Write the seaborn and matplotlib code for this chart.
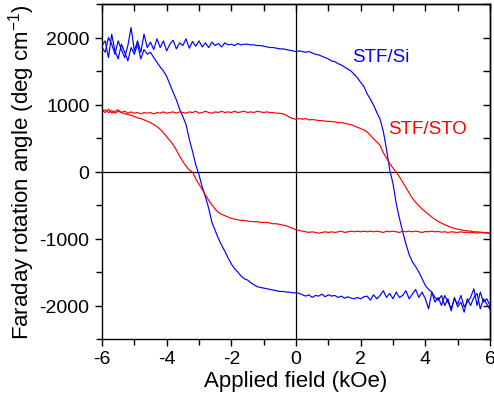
import numpy as np
import pandas as pd
import matplotlib
matplotlib.use("Agg")
import matplotlib.pyplot as plt
import seaborn as sns
from matplotlib.ticker import MultipleLocator

# Applied field grid (kOe)
field = [-6.0, -5.9, -5.8, -5.7, -5.6, -5.5, -5.4, -5.3, -5.2, -5.1,
         -5.0, -4.9, -4.8, -4.7, -4.6, -4.5, -4.4, -4.3, -4.2, -4.1,
         -4.0, -3.9, -3.8, -3.7, -3.6, -3.5, -3.4, -3.3, -3.2, -3.1,
         -3.0, -2.9, -2.8, -2.7, -2.6, -2.5, -2.4, -2.3, -2.2, -2.1,
         -2.0, -1.9, -1.8, -1.7, -1.6, -1.5, -1.4, -1.3, -1.2, -1.1,
         -1.0, -0.9, -0.8, -0.7, -0.6, -0.5, -0.4, -0.3, -0.2, -0.1,
         0.0, 0.1, 0.2, 0.3, 0.4, 0.5, 0.6, 0.7, 0.8, 0.9,
         1.0, 1.1, 1.2, 1.3, 1.4, 1.5, 1.6, 1.7, 1.8, 1.9,
         2.0, 2.1, 2.2, 2.3, 2.4, 2.5, 2.6, 2.7, 2.8, 2.9,
         3.0, 3.1, 3.2, 3.3, 3.4, 3.5, 3.6, 3.7, 3.8, 3.9,
         4.0, 4.1, 4.2, 4.3, 4.4, 4.5, 4.6, 4.7, 4.8, 4.9,
         5.0, 5.1, 5.2, 5.3, 5.4, 5.5, 5.6, 5.7, 5.8, 5.9, 6.0]

# STF/Si, branch that switches at +H
si_upper = [1850, 1780, 2000, 1900, 1750, 1950, 1820, 1700, 1880, 2150,
            1800, 1950, 1780, 2050, 1850, 1930, 1820, 1980, 1850, 1950,
            1800, 1900, 1960, 1830, 1920, 1880, 1980, 1840, 1940, 1870,
            1950, 1860, 1920, 1850, 1930, 1880, 1910, 1860, 1920, 1890,
            1900, 1880, 1910, 1890, 1900, 1900, 1890, 1890, 1880, 1880,
            1870, 1860, 1850, 1850, 1840, 1830, 1830, 1820, 1810, 1800,
            1790, 1800, 1790, 1780, 1790, 1770, 1750, 1740, 1720, 1700,
            1680, 1650, 1640, 1610, 1590, 1560, 1530, 1500, 1450, 1400,
            1330, 1270, 1160, 1080, 990, 880, 780, 600, 330, 20,
            -180, -480, -700, -900, -1080, -1240, -1350, -1420, -1500, -1600,
            -1700, -1760, -1800, -1880, -1920, -1850, -2000, -1900, -2080, -1880,
            -2020, -1950, -2100, -1900, -2000, -1880, -1820, -2050, -1900, -1980, -2060]

# STF/Si, branch that switches at -H
si_lower = [1880, 1950, 1700, 2050, 1800, 1680, 1900, 1780, 1650, 1850,
            1750, 1900, 1680, 1820, 1750, 1780, 1700, 1630, 1560, 1500,
            1420, 1300, 1180, 1070, 930, 820, 700, 480, 300, 100,
            -50, -230, -380, -550, -760, -880, -1000, -1100, -1190, -1290,
            -1380, -1450, -1500, -1560, -1600, -1620, -1660, -1690, -1720, -1730,
            -1740, -1750, -1760, -1770, -1780, -1790, -1790, -1800, -1800, -1810,
            -1810, -1820, -1840, -1860, -1840, -1880, -1850, -1860, -1830, -1870,
            -1840, -1860, -1850, -1880, -1860, -1890, -1870, -1890, -1900, -1880,
            -1900, -1870, -1860, -1920, -1840, -1900, -1850, -1780, -1880, -1820,
            -1900, -1800, -1880, -1850, -1780, -1900, -1830, -1760, -1880, -1800,
            -1900, -2050, -1800, -1950, -1880, -2000, -1850, -1950, -2050, -1900,
            -1980, -1850, -2020, -1950, -1880, -1750, -2000, -1800, -1950, -1900, -2000]

# STF/STO, branch that switches at +H
sto_upper = [910, 880, 930, 870, 900, 920, 880, 900, 870, 890,
             870, 880, 860, 880, 870, 880, 860, 880, 870, 890,
             870, 880, 890, 870, 890, 880, 870, 890, 880, 900,
             870, 880, 900, 880, 870, 890, 880, 900, 880, 890,
             880, 900, 880, 890, 900, 880, 890, 880, 900, 890,
             880, 890, 880, 880, 870, 870, 860, 840, 810, 790,
             780, 790, 780, 790, 770, 775, 770, 760, 760, 750,
             750, 745, 740, 730, 730, 720, 710, 700, 680, 660,
             640, 620, 590, 540, 490, 440, 390, 280, 200, 120,
             50, -10, -80, -160, -240, -320, -400, -460, -510, -560,
             -600, -640, -680, -715, -745, -770, -795, -815, -835, -850,
             -860, -870, -880, -885, -890, -900, -900, -905, -910, -910, -920]

# STF/STO, branch that switches at -H
sto_lower = [900, 920, 880, 910, 870, 900, 880, 860, 850, 840,
             820, 800, 790, 770, 750, 730, 700, 670, 630, 580,
             520, 460, 400, 320, 230, 150, 80, 20, -10, -110,
             -190, -270, -350, -430, -500, -560, -610, -640, -660, -680,
             -700, -710, -720, -730, -730, -740, -745, -750, -750, -760,
             -760, -760, -770, -780, -780, -790, -800, -810, -830, -850,
             -870, -880, -890, -900, -910, -900, -910, -920, -910, -900,
             -910, -900, -910, -900, -890, -910, -900, -890, -900, -890,
             -900, -890, -900, -890, -900, -890, -900, -910, -890, -900,
             -890, -900, -910, -890, -900, -890, -900, -890, -900, -910,
             -895, -900, -890, -900, -895, -905, -900, -910, -900, -905,
             -910, -900, -910, -905, -915, -910, -920, -910, -915, -920, -925]

samples = ["STF/Si", "STF/STO"]
colors = {"STF/Si": "#0000ff", "STF/STO": "#ff0000"}

frames = []
for name, branch, vals in [("STF/Si", "up", si_upper), ("STF/Si", "down", si_lower),
                           ("STF/STO", "up", sto_upper), ("STF/STO", "down", sto_lower)]:
    frames.append(pd.DataFrame({"field": field, "angle": vals,
                                "sample": name, "branch": branch}))
df = pd.concat(frames, ignore_index=True)

sns.set_theme(style="white")
plt.rcParams["font.family"] = ["Liberation Sans", "DejaVu Sans"]
plt.rcParams["mathtext.default"] = "regular"
plt.rcParams["axes.unicode_minus"] = False

fig = plt.figure(figsize=(4.94, 4.02), dpi=100)
ax = fig.add_axes([102 / 494, 1 - 340 / 402, 388 / 494, 335 / 402])

ax.axhline(0, color="black", lw=0.9, zorder=1)
ax.axvline(0, color="black", lw=0.9, zorder=1)

sns.lineplot(data=df, x="field", y="angle", hue="sample", units="branch",
             estimator=None, sort=False, palette=colors, legend=False,
             linewidth=0.85, ax=ax, zorder=2)

ax.set_xlim(-6, 6)
ax.set_ylim(-2500, 2500)
ax.xaxis.set_major_locator(MultipleLocator(2))
ax.xaxis.set_minor_locator(MultipleLocator(1))
ax.yaxis.set_major_locator(MultipleLocator(1000))
ax.yaxis.set_minor_locator(MultipleLocator(500))
ax.set_yticks([-2000, -1000, 0, 1000, 2000])

for s in ax.spines.values():
    s.set_color("black")
    s.set_linewidth(1.0)

ax.tick_params(which="both", direction="out", color="black", width=1.0,
               top=False, right=False, left=True, bottom=True,
               labelsize=14, labelcolor="black")
ax.tick_params(axis="y", which="both", pad=4)
ax.tick_params(axis="x", which="both", pad=3)
ax.tick_params(which="major", length=5)
ax.tick_params(which="minor", length=4)

secx = ax.secondary_xaxis("top")
secx.xaxis.set_major_locator(MultipleLocator(1))
secx.tick_params(direction="in", length=5, width=1.0, color="black", labeltop=False)
secy = ax.secondary_yaxis("right")
secy.yaxis.set_major_locator(MultipleLocator(500))
secy.tick_params(direction="in", length=5, width=1.0, color="black", labelright=False)
for sa in (secx, secy):
    for s in sa.spines.values():
        s.set_color("black")
        s.set_linewidth(1.0)

ax.set_xlabel("Applied field (kOe)", fontsize=16, color="black", labelpad=2)
ax.set_ylabel("Faraday rotation angle (deg cm$^{-1}$)", fontsize=16, color="black", labelpad=2)

ax.text(1.73, 1710, "STF/Si", color=colors["STF/Si"], fontsize=13.5, va="center", ha="left")
ax.text(2.85, 635, "STF/STO", color=colors["STF/STO"], fontsize=13.5, va="center", ha="left")

fig.savefig("out.png", dpi=100)
